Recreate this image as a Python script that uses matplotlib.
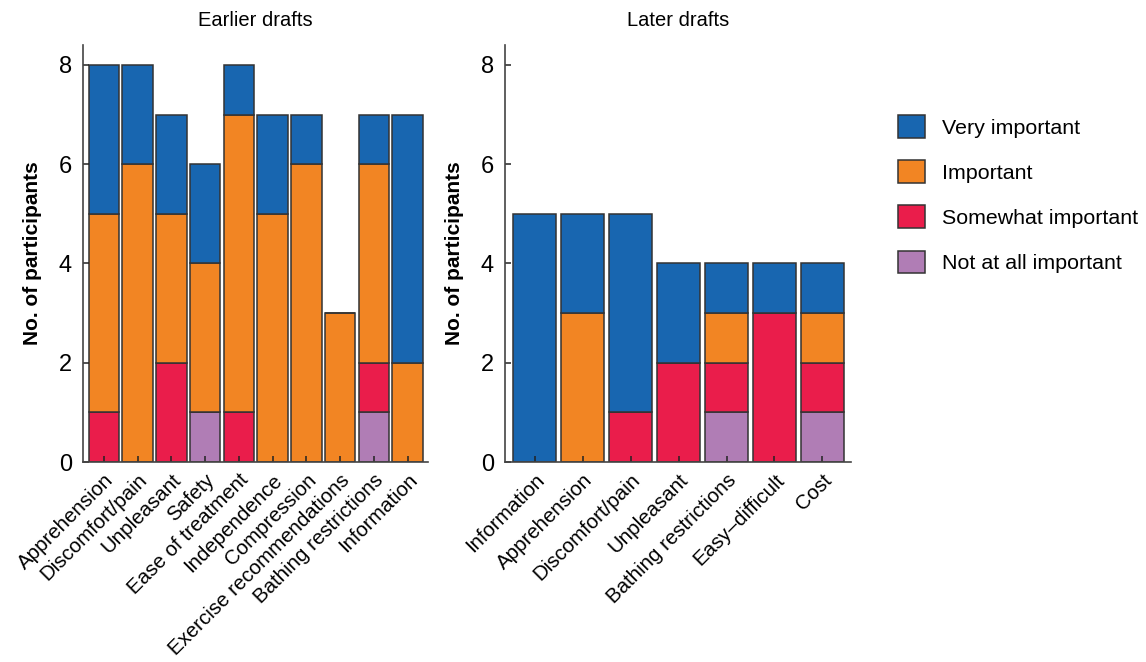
import matplotlib.pyplot as plt
import numpy as np

plt.rcParams['font.family'] = ['Liberation Sans', 'DejaVu Sans']

levels = ['Very important', 'Important', 'Somewhat important', 'Not at all important']
colors = ['#1866b0', '#f28523', '#ea1d4b', '#b07db5']

early_labels = ['Apprehension', 'Discomfort/pain', 'Unpleasant', 'Safety',
                'Ease of treatment', 'Independence', 'Compression',
                'Exercise recommendations', 'Bathing restrictions', 'Information']
early_very = [3, 2, 2, 2, 1, 2, 1, 0, 1, 5]
early_imp = [4, 6, 3, 3, 6, 5, 6, 3, 4, 2]
early_some = [1, 0, 2, 0, 1, 0, 0, 0, 1, 0]
early_not = [0, 0, 0, 1, 0, 0, 0, 0, 1, 0]

late_labels = ['Information', 'Apprehension', 'Discomfort/pain', 'Unpleasant',
               'Bathing restrictions', 'Easy\u2013difficult', 'Cost']
late_very = [5, 2, 4, 2, 1, 1, 1]
late_imp = [0, 3, 0, 0, 1, 0, 1]
late_some = [0, 0, 1, 2, 1, 3, 1]
late_not = [0, 0, 0, 0, 1, 0, 1]


def stacked(ax, labels, very, imp, some, nota, title):
    x = np.arange(len(labels))
    # bottom-up: not at all, somewhat, important, very
    series = [nota, some, imp, very]
    cols = colors[::-1]
    names = levels[::-1]
    bottom = np.zeros(len(labels))
    for vals, c, n in zip(series, cols, names):
        vals = np.array(vals, dtype=float)
        ax.bar(x, vals, width=0.9, bottom=bottom, color=c, edgecolor='#333333',
               linewidth=1.1, label=n)
        bottom += vals
    ax.set_xlim(-0.62, len(labels) - 0.4)
    ax.set_ylim(0, 8.4)
    ax.set_yticks([0, 2, 4, 6, 8])
    ax.set_xticks(x)
    ax.set_xticklabels(labels, rotation=45, ha='right', rotation_mode='anchor',
                       fontsize=14.8)
    ax.tick_params(axis='both', direction='in', length=4, width=1.1, color='#222222')
    ax.tick_params(axis='y', labelsize=17, pad=8)
    ax.tick_params(axis='x', pad=6)
    for s in ['top', 'right']:
        ax.spines[s].set_visible(False)
    for s in ['left', 'bottom']:
        ax.spines[s].set_linewidth(1.2)
        ax.spines[s].set_color('#444444')
    ax.set_ylabel('No. of participants', fontsize=15, fontweight='bold', labelpad=12)
    ax.set_title(title, fontsize=14.5, pad=14)


fig = plt.figure(figsize=(11.46, 6.62), dpi=100)
ax1 = fig.add_axes([0.0724, 0.302, 0.301, 0.630])
ax2 = fig.add_axes([0.4407, 0.302, 0.302, 0.630])

stacked(ax1, early_labels, early_very, early_imp, early_some, early_not, 'Earlier drafts')
stacked(ax2, late_labels, late_very, late_imp, late_some, late_not, 'Later drafts')

handles, names = ax1.get_legend_handles_labels()
fig.legend(handles[::-1], names[::-1], loc='upper left',
           bbox_to_anchor=(898 / 1146, 1 - 115 / 662), frameon=False,
           fontsize=15.4, handlelength=1.26, handleheight=1.26, labelspacing=1.05,
           handletextpad=0.8, borderpad=0, borderaxespad=0)

fig.savefig('out.png', dpi=100)
